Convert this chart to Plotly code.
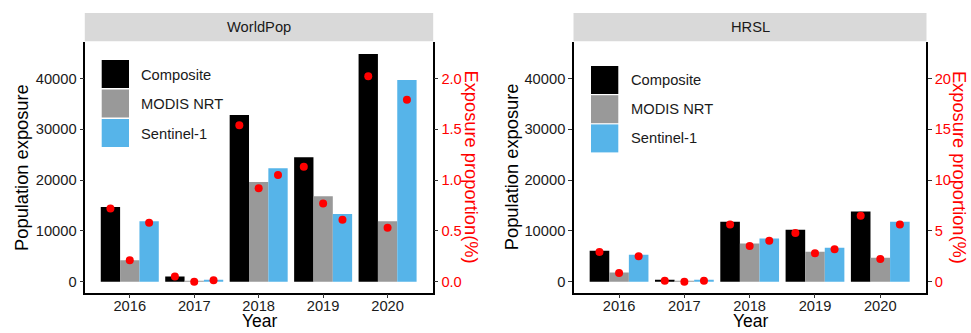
import plotly.graph_objects as go

# ---------------- data ----------------
years = ["2016", "2017", "2018", "2019", "2020"]
series = ["Composite", "MODIS NRT", "Sentinel-1"]
colors = ["#000000", "#999999", "#56B4E9"]

# WorldPop panel
wp_exposure = {
    "Composite": [14700, 1000, 32800, 24500, 44800],
    "MODIS NRT": [4200, 30, 19600, 16800, 11900],
    "Sentinel-1": [11900, 300, 22300, 13300, 39700],
}
wp_prop = {
    "Composite": [0.72, 0.05, 1.54, 1.13, 2.02],
    "MODIS NRT": [0.21, 0.00, 0.92, 0.77, 0.53],
    "Sentinel-1": [0.58, 0.015, 1.05, 0.61, 1.79],
}

# HRSL panel
hr_exposure = {
    "Composite": [6100, 250, 11800, 10200, 13800],
    "MODIS NRT": [1800, 20, 7500, 5900, 4700],
    "Sentinel-1": [5300, 250, 8500, 6700, 11800],
}
hr_prop = {
    "Composite": [2.93, 0.10, 5.63, 4.80, 6.50],
    "MODIS NRT": [0.86, 0.00, 3.52, 2.80, 2.24],
    "Sentinel-1": [2.50, 0.10, 4.02, 3.19, 5.63],
}

left_ticks = [0, 10000, 20000, 30000, 40000]
wp_right_ticks = [0.0, 0.5, 1.0, 1.5, 2.0]
hr_right_ticks = [0, 5, 10, 15, 20]

# ---------------- layout helpers ----------------
W, H = 971, 333
FONT = "Liberation Sans, Arial, sans-serif"


def px(x):
    return x / W


def py(y):
    return 1 - y / H


PLOT_TOP, PLOT_BOT = 41.7, 292.7
STRIP_TOP = 13
panels = [
    dict(name="WorldPop", x0=85.3, x1=432.7, exp=wp_exposure, prop=wp_prop,
         rticks=wp_right_ticks, rfmt=".1f", ratio=20000,
         leg_x=101.7, leg_y=60, leg_step=29.5, txt_x=139, txt_y=75,
         ltitle_x=20.7, rtitle_x=471.7),
    dict(name="HRSL", x0=574, x1=926, exp=hr_exposure, prop=hr_prop,
         rticks=hr_right_ticks, rfmt="d", ratio=2000,
         leg_x=591, leg_y=66, leg_step=29.2, txt_x=628.7, txt_y=80,
         ltitle_x=511, rtitle_x=959.3),
]

ymin, ymax = -2164, 47220
xrange = [-0.69, 4.70]
offsets = [-0.3, 0.0, 0.3]
xi = list(range(len(years)))

fig = go.Figure()
shapes = []
annotations = []
layout = {}

for p_i, p in enumerate(panels):
    xa = "x" if p_i == 0 else "x2"
    ya = "y" if p_i == 0 else "y3"
    ya2 = "y2" if p_i == 0 else "y4"
    for k, s in enumerate(series):
        fig.add_trace(go.Bar(x=xi, y=p["exp"][s], name=s, marker_color=colors[k],
                             marker_line_width=0, xaxis=xa, yaxis=ya,
                             showlegend=False, offsetgroup=str(k)))
    for k, s in enumerate(series):
        fig.add_trace(go.Scatter(x=[i + offsets[k] for i in xi], y=p["prop"][s],
                                 mode="markers", marker=dict(color="#FF0000", size=8),
                                 xaxis=xa, yaxis=ya2, showlegend=False))

    xkey = "xaxis" if p_i == 0 else "xaxis2"
    ykey = "yaxis" if p_i == 0 else "yaxis3"
    y2key = "yaxis2" if p_i == 0 else "yaxis4"
    dom_x = [px(p["x0"]), px(p["x1"])]
    dom_y = [py(PLOT_BOT), py(PLOT_TOP)]
    layout[xkey] = dict(domain=dom_x, anchor=ya,
                        range=xrange, tickvals=xi, ticktext=years,
                        showline=True, linecolor="black", linewidth=1.5,
                        ticks="outside", ticklen=4, tickcolor="#333333",
                        ticklabelstandoff=-5,
                        tickfont=dict(family=FONT, size=14.7, color="#1a1a1a"),
                        showgrid=False, zeroline=False, fixedrange=True)
    layout[ykey] = dict(domain=dom_y, anchor=xa, range=[ymin, ymax],
                        tickvals=left_ticks, ticktext=[str(v) for v in left_ticks],
                        showline=True, linecolor="black", linewidth=1.5,
                        ticks="outside", ticklen=4, tickcolor="#333333",
                        tickfont=dict(family=FONT, size=14.7, color="#1a1a1a"),
                        showgrid=False, zeroline=False)
    layout[y2key] = dict(overlaying=ya, side="right", anchor=xa,
                         range=[ymin / p["ratio"], ymax / p["ratio"]],
                         tickvals=p["rticks"],
                         ticktext=[format(v, p["rfmt"]) for v in p["rticks"]],
                         showline=True, linecolor="black", linewidth=1.5,
                         ticks="outside", ticklen=4, tickcolor="#333333",
                         tickfont=dict(family=FONT, size=14.7, color="#FF0000"),
                         showgrid=False, zeroline=False)

    # strip
    shapes.append(dict(type="rect", xref="paper", yref="paper",
                       x0=px(p["x0"] - 0.5), x1=px(p["x1"] + 0.5),
                       y0=py(PLOT_TOP - 0.5), y1=py(STRIP_TOP),
                       fillcolor="#D9D9D9", line_width=0, layer="below"))
    annotations.append(dict(text=p["name"], xref="paper", yref="paper",
                            x=px((p["x0"] + p["x1"]) / 2), y=py((STRIP_TOP + PLOT_TOP) / 2),
                            showarrow=False, xanchor="center", yanchor="middle",
                            font=dict(family=FONT, size=14.7, color="#1a1a1a")))
    # axis titles
    ymid = (PLOT_TOP + PLOT_BOT) / 2
    annotations.append(dict(text="Population exposure", xref="paper", yref="paper",
                            x=px(p["ltitle_x"]), y=py(ymid), textangle=-90,
                            showarrow=False, xanchor="center", yanchor="middle",
                            font=dict(family=FONT, size=18.3, color="black")))
    annotations.append(dict(text="Exposure proportion(%)", xref="paper", yref="paper",
                            x=px(p["rtitle_x"]), y=py(ymid), textangle=90,
                            showarrow=False, xanchor="center", yanchor="middle",
                            font=dict(family=FONT, size=18.3, color="#FF0000")))
    annotations.append(dict(text="Year", xref="paper", yref="bottom" if False else "paper",
                            x=px((p["x0"] + p["x1"]) / 2 + 1), y=0,
                            showarrow=False, xanchor="center", yanchor="bottom",
                            font=dict(family=FONT, size=17.5, color="black")))
    # manual legend
    for k, s in enumerate(series):
        top = p["leg_y"] + k * p["leg_step"]
        shapes.append(dict(type="rect", xref="paper", yref="paper",
                           x0=px(p["leg_x"]), x1=px(p["leg_x"] + 27.3),
                           y0=py(top + 28), y1=py(top),
                           fillcolor=colors[k], line_width=0))
        annotations.append(dict(text=s, xref="paper", yref="paper",
                                x=px(p["txt_x"]), y=py(p["txt_y"] + k * p["leg_step"]),
                                showarrow=False, xanchor="left", yanchor="middle",
                                font=dict(family=FONT, size=14.7, color="#1a1a1a")))

fig.update_layout(
    width=W, height=H, margin=dict(l=0, r=0, t=0, b=0),
    paper_bgcolor="white", plot_bgcolor="white",
    barmode="group", bargap=0.1, bargroupgap=0,
    showlegend=False, shapes=shapes, annotations=annotations,
    font=dict(family=FONT),
    **layout,
)

fig.write_html("out.html")
